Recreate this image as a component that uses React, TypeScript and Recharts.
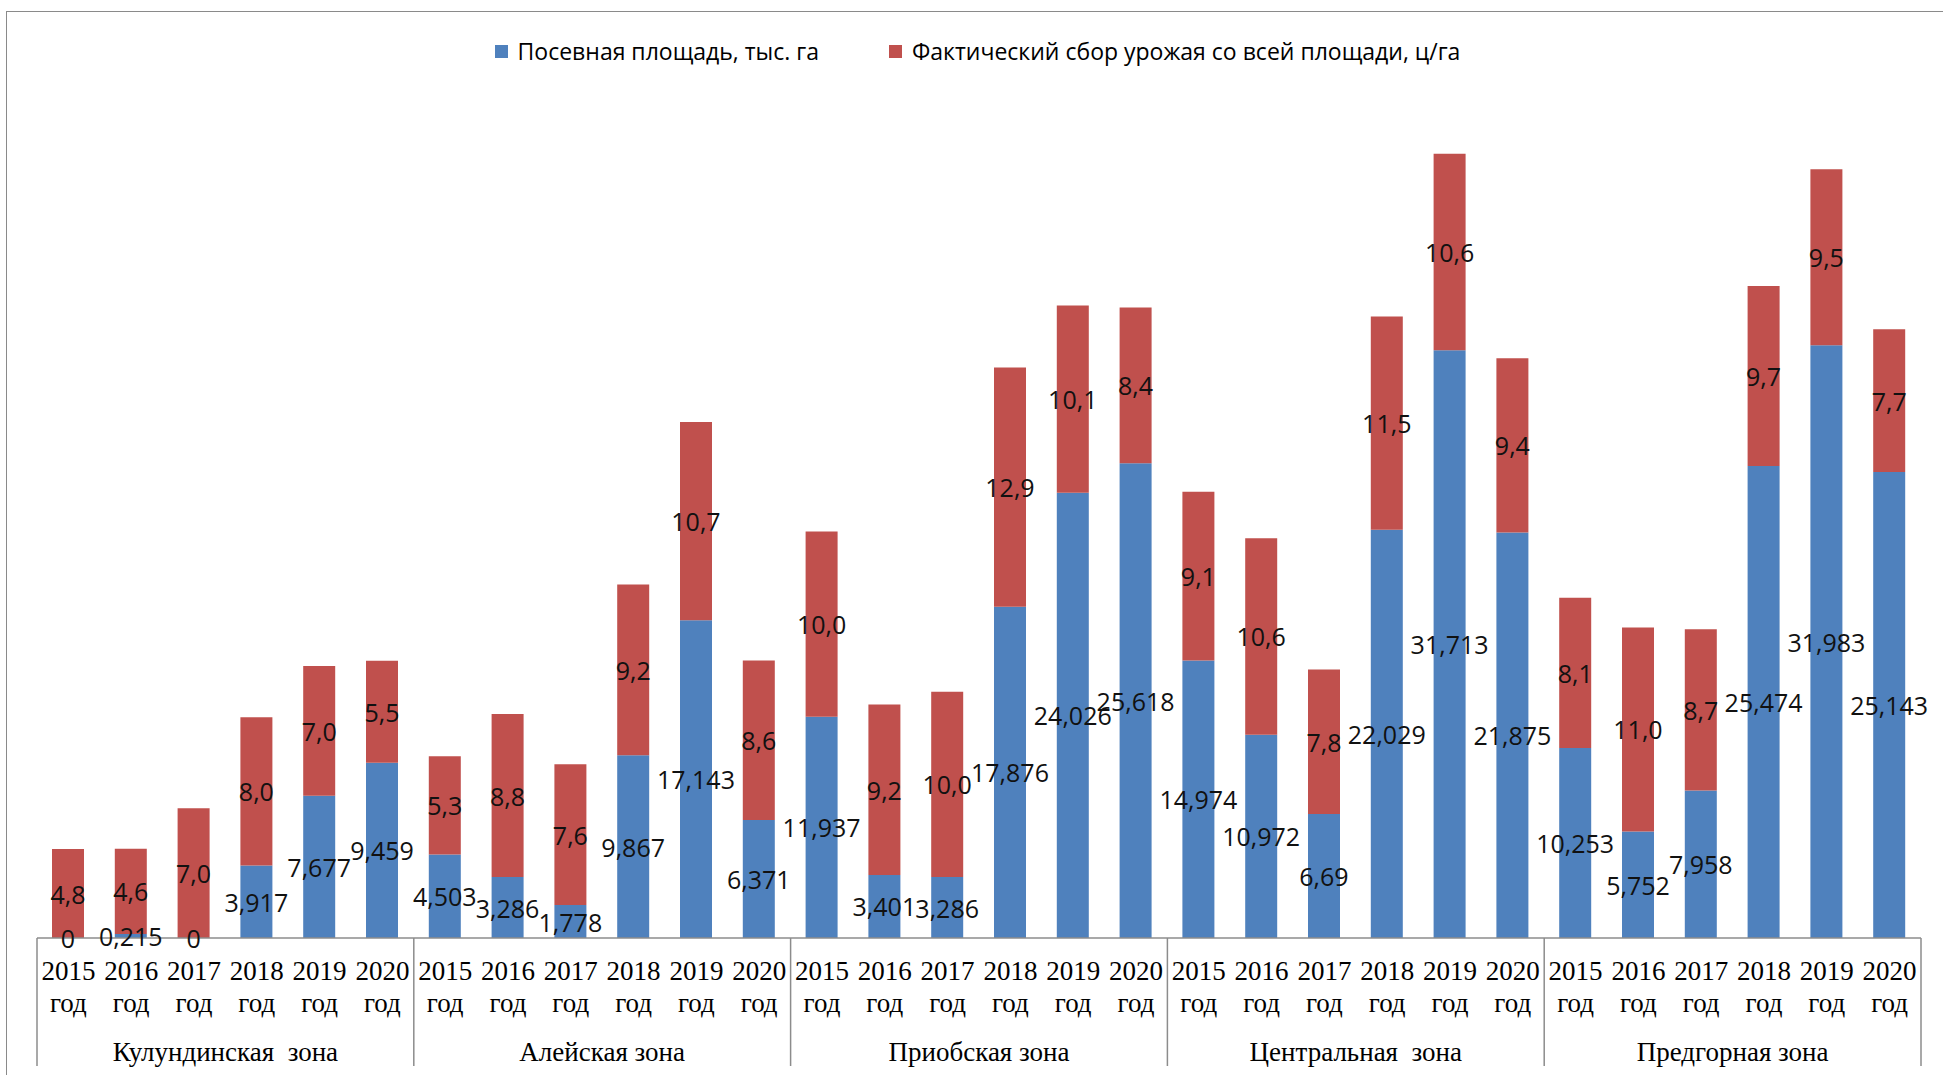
import React from 'react';
import { BarChart, Bar, XAxis, YAxis, LabelList, Legend } from 'recharts';

const years = ['2015', '2016', '2017', '2018', '2019', '2020'];
const yearSuffix = 'год';
const zones = ['Кулундинская  зона', 'Алейская зона', 'Приобская зона', 'Центральная  зона', 'Предгорная зона'];

const kulundaArea = [0, 0.215, 0, 3.917, 7.677, 9.459];
const kulundaYield = [4.8, 4.6, 7.0, 8.0, 7.0, 5.5];
const aleyArea = [4.503, 3.286, 1.778, 9.867, 17.143, 6.371];
const aleyYield = [5.3, 8.8, 7.6, 9.2, 10.7, 8.6];
const priobArea = [11.937, 3.401, 3.286, 17.876, 24.026, 25.618];
const priobYield = [10.0, 9.2, 10.0, 12.9, 10.1, 8.4];
const centralArea = [14.974, 10.972, 6.69, 22.029, 31.713, 21.875];
const centralYield = [9.1, 10.6, 7.8, 11.5, 10.6, 9.4];
const foothillArea = [10.253, 5.752, 7.958, 25.474, 31.983, 25.143];
const foothillYield = [8.1, 11.0, 8.7, 9.7, 9.5, 7.7];

const seriesNames = ['Посевная площадь, тыс. га', 'Фактический сбор урожая со всей площади, ц/га'];

const areaByZone = [kulundaArea, aleyArea, priobArea, centralArea, foothillArea];
const yieldByZone = [kulundaYield, aleyYield, priobYield, centralYield, foothillYield];

const data = zones.flatMap((zone, zi) =>
  years.map((year, yi) => ({
    id: `${zi}-${yi}`,
    zone,
    year,
    area: areaByZone[zi][yi],
    harvest: yieldByZone[zi][yi],
  }))
);

const CHART_W = 1943;
const CHART_H = 1075;
const X_AXIS_H = 137;
const MARGIN = { top: 104, right: 22, left: 37, bottom: 0 };
const BAND = (CHART_W - MARGIN.left - MARGIN.right) / data.length;
const BASELINE = CHART_H - MARGIN.bottom - X_AXIS_H;
const GROUP = years.length;

const BLUE = '#4F81BD';
const RED = '#C0504D';
const GRID = '#8c8c8c';
const SERIF = "'Liberation Serif', 'Times New Roman', serif";
const SANS = "'Open Sans', 'Noto Sans', sans-serif";

const CategoryTick = (props: any) => {
  const { x, y, payload } = props;
  const d = data.find((e) => e.id === payload.value);
  if (!d) return null;
  const idx = data.indexOf(d);
  const half = BAND / 2;
  const textProps = {
    textAnchor: 'middle' as const,
    dominantBaseline: 'central' as const,
    fontFamily: SERIF,
    fontSize: 27,
    fill: '#000',
  };
  return (
    <g>
      <text x={x} y={y + 33} {...textProps}>{d.year}</text>
      <text x={x} y={y + 65} {...textProps}>{yearSuffix}</text>
      {idx % GROUP === 0 && (
        <line x1={x - half} x2={x - half} y1={y} y2={y + 128} stroke={GRID} strokeWidth={1.5} />
      )}
      {idx === data.length - 1 && (
        <line x1={x + half} x2={x + half} y1={y} y2={y + 128} stroke={GRID} strokeWidth={1.5} />
      )}
      {idx % GROUP === 0 && (
        <text x={x - half + (GROUP / 2) * BAND} y={y + 114} {...textProps} style={{ whiteSpace: 'pre' }}>
          {d.zone}
        </text>
      )}
    </g>
  );
};

const LegendContent = () => {
  const colors = [BLUE, RED];
  return (
    <div style={{ display: 'flex', justifyContent: 'center', alignItems: 'center', paddingLeft: 12, gap: 70 }}>
      {seriesNames.map((n, i) => (
        <div key={n} style={{ display: 'flex', alignItems: 'center' }}>
          <div style={{ width: 13, height: 13, background: colors[i], marginRight: 10 }} />
          <span style={{ fontFamily: SANS, fontSize: 23, color: '#000', whiteSpace: 'nowrap' }}>{n}</span>
        </div>
      ))}
    </div>
  );
};

const fmtArea = (v: number) => String(v).replace('.', ',');
const fmtYield = (v: number) => Number(v).toFixed(1).replace('.', ',');

// Draws both data labels of a stacked column, positioned from the top segment's rectangle
// (computed by Recharts) and the plot's baseline.
const StackLabels = (props: any) => {
  const vb = props.viewBox || props;
  const d = data.find((e) => e.id === props.value);
  if (!d || vb == null) return null;
  const cx = vb.x + vb.width / 2;
  const redTop = Math.min(vb.y, vb.y + vb.height);
  const redBottom = Math.max(vb.y, vb.y + vb.height);
  const common = {
    textAnchor: 'middle' as const,
    dominantBaseline: 'central' as const,
    fontFamily: SANS,
    fontSize: 25,
    fill: '#111',
  };
  return (
    <g>
      <text x={cx} y={(redBottom + BASELINE) / 2} {...common}>{fmtArea(d.area)}</text>
      <text x={cx} y={(redTop + redBottom) / 2} {...common}>{fmtYield(d.harvest)}</text>
    </g>
  );
};

export default function App() {
  return (
    <div style={{ position: 'absolute', left: 0, top: 0, width: CHART_W, height: CHART_H, overflow: 'hidden', background: '#fff' }}>
      <div
        style={{
          position: 'absolute',
          left: 6,
          top: 11,
          width: 3000,
          height: 3000,
          border: '1.5px solid #8a8a8a',
        }}
      />
      <div style={{ position: 'absolute', left: 0, top: 0 }}>
        <BarChart width={CHART_W} height={CHART_H} data={data} margin={MARGIN}>
          <XAxis
            dataKey="id"
            interval={0}
            height={X_AXIS_H}
            tickLine={false}
            tickSize={0}
            tickMargin={0}
            axisLine={{ stroke: GRID, strokeWidth: 1.5 }}
            tick={<CategoryTick />}
          />
          <YAxis hide domain={[0, 45]} />
          <Legend
            verticalAlign="middle"
            align="center"
            wrapperStyle={{ top: 35, left: 0, width: CHART_W }}
            content={<LegendContent />}
          />
          <Bar dataKey="area" name={seriesNames[0]} stackId="s" fill={BLUE} barSize={32} isAnimationActive={false} />
          <Bar dataKey="harvest" name={seriesNames[1]} stackId="s" fill={RED} barSize={32} isAnimationActive={false}>
            <LabelList dataKey="id" content={<StackLabels />} />
          </Bar>
        </BarChart>
      </div>
    </div>
  );
}
